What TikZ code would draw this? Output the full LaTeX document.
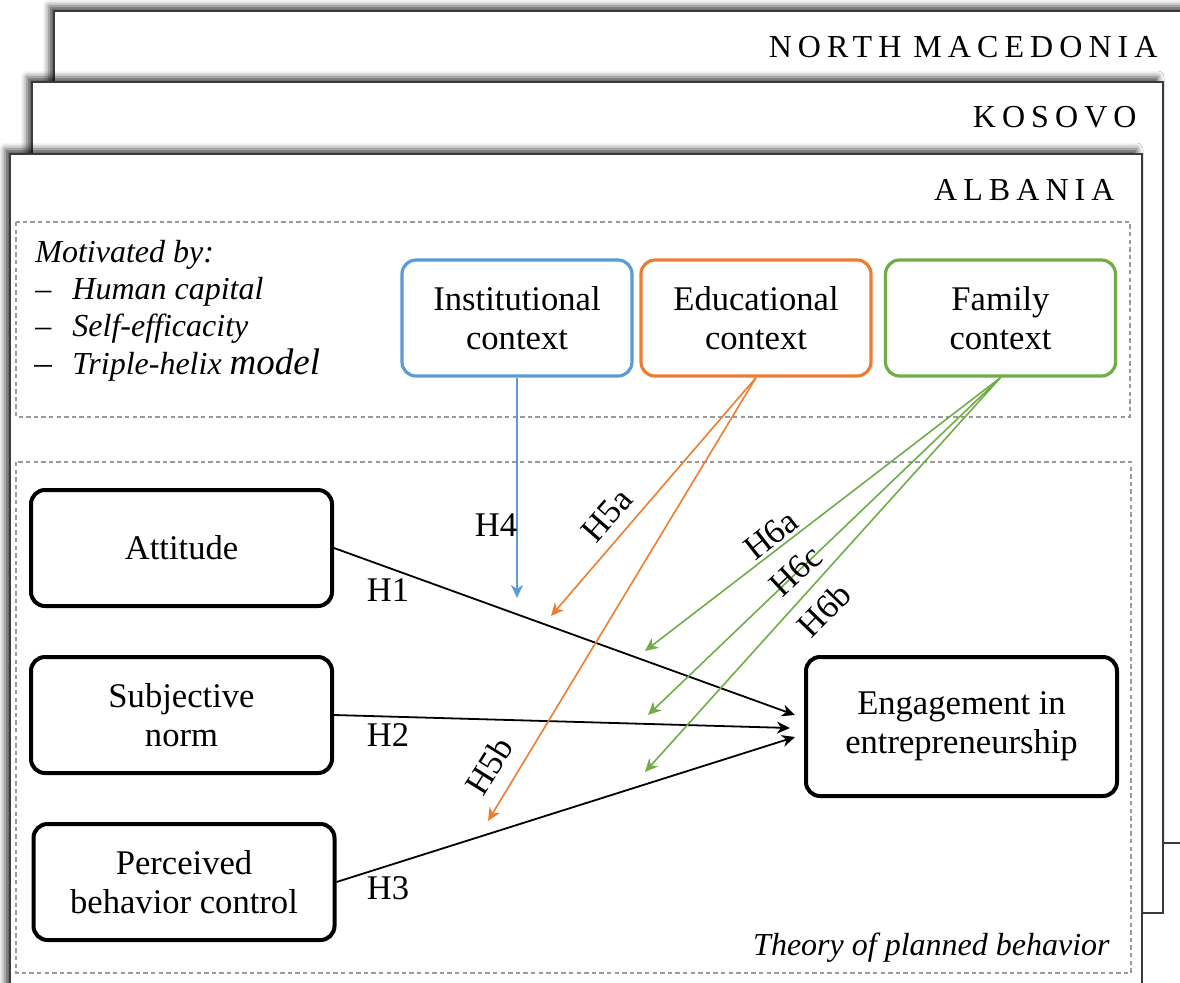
\documentclass[tikz,border=0pt]{standalone}
\usepackage{fontspec}
\setmainfont{Liberation Serif}
\newfontfamily\spacedcaps[LetterSpace=19]{Liberation Serif}
\usetikzlibrary{arrows.meta,shadows.blur}

\definecolor{instblue}{HTML}{5B9BD5}
\definecolor{eduorange}{HTML}{ED7D31}
\definecolor{famgreen}{HTML}{70AD47}
\definecolor{framegray}{HTML}{3A3A3A}
\definecolor{dashgray}{HTML}{9A9A9A}

\tikzset{
  frame/.style={draw=framegray, line width=1pt, fill=white,
    blur shadow={shadow xshift=-2.5pt, shadow yshift=2.5pt,
                 shadow blur radius=3pt, shadow opacity=70}},
  dashbox/.style={draw=dashgray, line width=0.6pt, dash pattern=on 2.2pt off 1.6pt},
  country/.style={font=\fontsize{16}{18}\spacedcaps, inner sep=0pt, anchor=base east},
  itext/.style={font=\fontsize{16}{19}\selectfont\itshape, inner sep=0pt, anchor=base west},
  dashmark/.style={font=\fontsize{16}{19}\selectfont, inner sep=0pt, anchor=base west},
  boxtext/.style={font=\fontsize{17.3}{19.5}\selectfont, align=center},
  ctxbox/.style={boxtext, rounded corners=7pt, line width=1.6pt, fill=white,
    minimum width=115pt, minimum height=58pt, inner sep=0pt},
  tpbbox/.style={boxtext, draw=black, rounded corners=7pt, line width=2pt, fill=white,
    minimum width=150.5pt, minimum height=58pt, inner sep=0pt},
  hlabel/.style={font=\fontsize{17.3}{19.5}\selectfont, inner sep=0pt},
  tip/.style={-{Stealth[length=6.5pt, width=6pt, inset=2pt]}},
  blackarrow/.style={tip, draw=black, line width=0.9pt},
  bluearrow/.style={tip, draw=instblue, line width=0.8pt},
  orangearrow/.style={tip, draw=eduorange, line width=0.8pt},
  greenarrow/.style={tip, draw=famgreen, line width=0.8pt},
}

\begin{document}
\begin{tikzpicture}[x=0.5pt, y=-0.5pt]
\useasboundingbox (0,0) rectangle (1180,982);
\clip (0,0) rectangle (1180,982);

% stacked country frames
\draw[frame] (54,11) rectangle (1210,843);
\draw[frame] (32,82) rectangle (1163,913);
\draw[frame] (10,154) rectangle (1142,1010);

\node[country] (nmk) at (1158,57) {NORTH\hspace{6pt}MACEDONIA};
\node[country] (kos) at (1137,127) {KOSOVO};
\node[country] (alb) at (1115,200) {ALBANIA};

% dashed groups
\draw[dashbox] (16,222) rectangle (1130,417);
\draw[dashbox] (16,462) rectangle (1131,973);

% motivation list
\node[itext] (mot) at (35,262) {Motivated by:};
\node[dashmark] (d1) at (35,299) {--};
\node[itext] (m1) at (72,299) {Human capital};
\node[dashmark] (d2) at (35,336) {--};
\node[itext] (m2) at (72,336) {Self-efficacity};
\node[dashmark, font=\fontsize{17.5}{19}\selectfont] (d3) at (34,374) {--};
\node[itext] (m3) at (72,374) {Triple-helix {\fontsize{18.5}{19}\selectfont\itshape model}};

\node[itext, anchor=base east] (tpb) at (1110,955) {Theory of planned behavior};

% context boxes
\node[ctxbox, draw=instblue] (inst) at (517,318) {Institutional\\context};
\node[ctxbox, draw=eduorange] (edu) at (756,318) {Educational\\context};
\node[ctxbox, draw=famgreen] (fam) at (1000.5,318) {Family\\context};

% theory of planned behavior boxes
\node[tpbbox] (att) at (181.5,548) {Attitude};
\node[tpbbox] (sub) at (181.5,715) {Subjective\\norm};
\node[tpbbox] (pbc) at (184,882) {Perceived\\behavior control};
\node[tpbbox, minimum width=155.5pt, minimum height=69.5pt] (eng) at (961.5,726.5) {Engagement in\\entrepreneurship};

% arrow ends
\coordinate (e1) at (795,715);
\coordinate (e2) at (790,728);
\coordinate (e3) at (795,737);
\coordinate (e4) at (517,598);
\coordinate (e5a) at (551,616);
\coordinate (e5b) at (488,821);
\coordinate (e6a) at (645,651);
\coordinate (e6c) at (648,715);
\coordinate (e6b) at (645,772);

\draw[blackarrow] (att.east) -- (e1);
\draw[blackarrow] (sub.east) -- (e2);
\draw[blackarrow] (pbc.east) -- (e3);
\draw[bluearrow] (inst.south) -- (e4);
\draw[orangearrow] (edu.south) -- (e5a);
\draw[orangearrow] (edu.south) -- (e5b);
\draw[greenarrow] (fam.south) -- (e6a);
\draw[greenarrow] (fam.south) -- (e6c);
\draw[greenarrow] (fam.south) -- (e6b);

% hypothesis labels
\node[hlabel] (h1) at (388,590) {H1};
\node[hlabel] (h2) at (388,735) {H2};
\node[hlabel] (h3) at (388,888) {H3};
\node[hlabel] (h4) at (496,525) {H4};
\node[hlabel, rotate=49] (h5a) at (607,515) {H5a};
\node[hlabel, rotate=58] (h5b) at (489,766) {H5b};
\node[hlabel, rotate=38] (h6a) at (771,535) {H6a};
\node[hlabel, rotate=43] (h6c) at (796,571) {H6c};
\node[hlabel, rotate=46] (h6b) at (824,610) {H6b};
\end{tikzpicture}
\end{document}
